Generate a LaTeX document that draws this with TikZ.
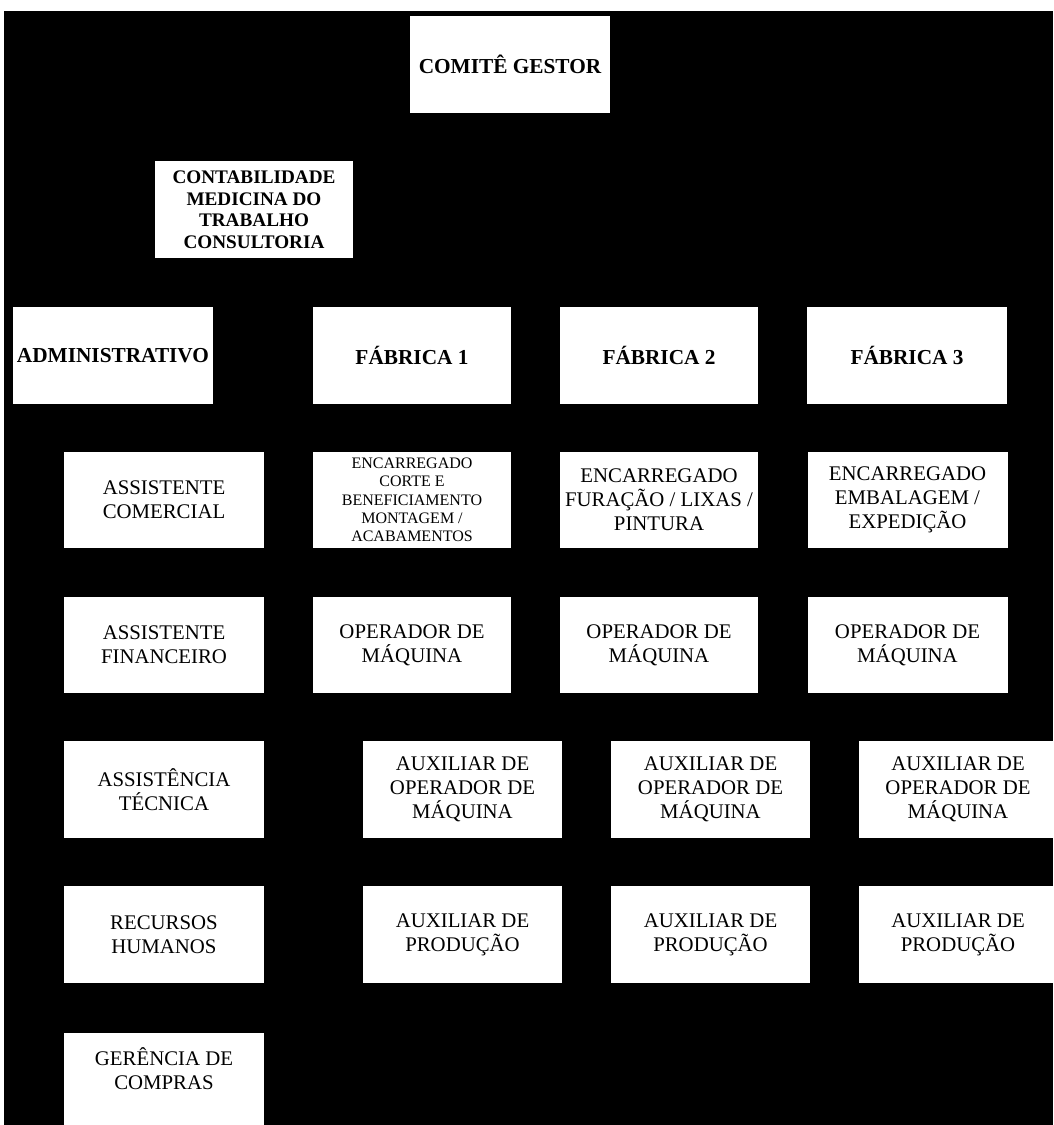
\documentclass[tikz,border=0pt]{standalone}
\usepackage{fontspec}
\setmainfont{Liberation Serif}
\begin{document}
\begin{tikzpicture}[x=1pt,y=-1pt,
  box/.style={fill=white,draw=none,inner sep=0pt,outer sep=0pt,align=center,
    minimum width=199pt,minimum height=97pt,font=\fontsize{20.8}{24}\selectfont},
  hbox/.style={box,font=\fontsize{21.3}{24}\selectfont\bfseries},
  sbox/.style={box,font=\fontsize{19.2}{21.5}\selectfont\bfseries},
  tbox/.style={box,font=\fontsize{16}{18.3}\selectfont}]
\useasboundingbox (0,0) rectangle (1053,1125);
\fill[white] (0,0) rectangle (1053,1125);
\fill[black] (4,11) rectangle (1053,1125);
\begin{scope}
\clip (0,0) rectangle (1053,1125);
% top
\node[hbox,minimum width=200pt] (cg) at (510,64.5) {COMITÊ GESTOR};
\node[sbox,minimum width=198pt] (cont) at (254,209.5) {CONTABILIDADE\\MEDICINA DO\\TRABALHO\\CONSULTORIA};
% row 1
\node[hbox,minimum width=200pt] (adm) at (113,355.5) {ADMINISTRATIVO};
\node[hbox,minimum width=198pt] (f1) at (412,355.5) {FÁBRICA 1};
\node[hbox,minimum width=198pt] (f2) at (659,355.5) {FÁBRICA 2};
\node[hbox,minimum width=200pt] (f3) at (907,355.5) {FÁBRICA 3};
% row 2
\node[box,minimum width=200pt,minimum height=96pt] (ac) at (164,500) {ASSISTENTE\\COMERCIAL};
\node[tbox,minimum width=198pt,minimum height=96pt] (e1) at (412,500) {ENCARREGADO\\CORTE E\\BENEFICIAMENTO\\MONTAGEM /\\ACABAMENTOS};
\node[box,minimum width=198pt,minimum height=96pt] (e2) at (659,500) {ENCARREGADO\\FURAÇÃO / LIXAS /\\PINTURA};
\node[box,minimum width=200pt,minimum height=96pt] (e3) at (907.5,500) {ENCARREGADO\\EMBALAGEM /\\EXPEDIÇÃO};
% row 3
\node[box,minimum width=200pt,minimum height=96pt] (af) at (164,645) {ASSISTENTE\\FINANCEIRO};
\node[box,minimum width=198pt,minimum height=96pt] (o1) at (412,645) {OPERADOR DE\\MÁQUINA};
\node[box,minimum width=198pt,minimum height=96pt] (o2) at (659,645) {OPERADOR DE\\MÁQUINA};
\node[box,minimum width=200pt,minimum height=96pt] (o3) at (907.5,645) {OPERADOR DE\\MÁQUINA};
% row 4
\node[box,minimum width=200pt] (at) at (164,789.5) {ASSISTÊNCIA\\TÉCNICA};
\node[box] (a1) at (462.5,789.5) {AUXILIAR DE\\OPERADOR DE\\MÁQUINA};
\node[box] (a2) at (710.5,789.5) {AUXILIAR DE\\OPERADOR DE\\MÁQUINA};
\node[box] (a3) at (958,789.5) {AUXILIAR DE\\OPERADOR DE\\MÁQUINA};
% row 5
\node[box,minimum width=200pt] (rh) at (164,934.5) {RECURSOS\\HUMANOS};
\node[box] (p1) at (462.5,934.5) {AUXILIAR DE\\PRODUÇÃO};
\node[box] (p2) at (710.5,934.5) {AUXILIAR DE\\PRODUÇÃO};
\node[box] (p3) at (958,934.5) {AUXILIAR DE\\PRODUÇÃO};
% row 6
\node[box,minimum width=200pt,minimum height=96pt] (gc) at (164,1081) {GERÊNCIA DE\\COMPRAS\\\mbox{}};
\end{scope}
\end{tikzpicture}
\end{document}
